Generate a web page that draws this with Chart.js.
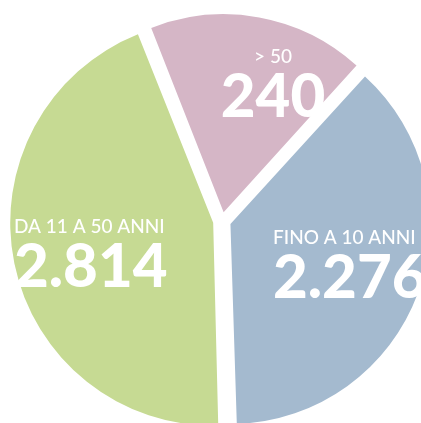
<!DOCTYPE html>
<html>
<head>
<meta charset="utf-8">
<script src="https://cdn.jsdelivr.net/npm/chart.js@4.4.1/dist/chart.umd.min.js"></script>
<style>
  html, body { margin: 0; padding: 0; background: #fff; overflow: hidden; }
  /* the pie runs off the right and bottom edges in the original, so the box is a bit bigger than the window */
  #wrap { position: absolute; left: 0; top: 0; width: 444px; height: 442px; }
</style>
</head>
<body>
<div id="wrap"><canvas id="chart"></canvas></div>
<script>
const groups = ['> 50', 'FINO A 10 ANNI', 'DA 11 A 50 ANNI'];
const counts = ['240', '2.276', '2.814'];
// share of the circle each slice covers in the picture (%), the drawing is not to scale
const shares = [17.7, 37.8, 44.5];
const colors = ['#d5b6c6', '#a4bacf', '#c6da93'];

// label blocks, placed relative to the pie centre
const labelPlaces = [
  { dx: 51, small: -158, big: -104, align: 'center' },
  { dx: 51, small: 23, big: 77, align: 'left' },
  { dx: -208, small: 12, big: 66, align: 'left' }
];

const sliceLabels = {
  id: 'sliceLabels',
  afterDatasetsDraw(chart) {
    const ctx = chart.ctx;
    const first = chart.getDatasetMeta(0).data[0];
    const cx = first.x, cy = first.y;
    ctx.save();
    ctx.fillStyle = '#fff';
    ctx.textBaseline = 'alphabetic';
    labelPlaces.forEach((p, i) => {
      ctx.textAlign = p.align;
      ctx.font = '500 19px Lato';
      ctx.fillText(groups[i], cx + p.dx, cy + p.small);
      ctx.font = '900 60px Lato';
      ctx.fillText(counts[i], cx + p.dx, cy + p.big);
    });
    ctx.restore();
  }
};

new Chart(document.getElementById('chart'), {
  type: 'pie',
  data: {
    labels: groups,
    datasets: [{
      data: shares,
      backgroundColor: colors,
      borderWidth: 0,
      offset: 36
    }]
  },
  options: {
    responsive: true,
    maintainAspectRatio: false,
    animation: false,
    rotation: -21.5,
    radius: 197,
    layout: { padding: 0 },
    events: [],
    plugins: {
      legend: { display: false },
      tooltip: { enabled: false }
    }
  },
  plugins: [sliceLabels]
});
</script>
</body>
</html>
